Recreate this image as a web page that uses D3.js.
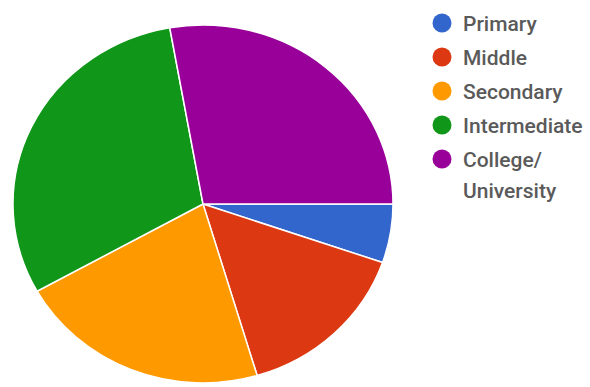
<!DOCTYPE html>
<html>
<head>
<meta charset="utf-8">
<script src="https://cdn.jsdelivr.net/npm/d3@7"></script>
<style>
  html, body { margin: 0; padding: 0; background: #fff; }
  svg { display: block; }
</style>
</head>
<body>
<svg id="chart" width="590" height="387"></svg>
<script>
// Education level shares (percent)
const categories = ["Primary", "Middle", "Secondary", "Intermediate", "College/University"];
const values = [5.3, 15.1, 21.5, 30.3, 27.8];
const legendLabels = [["Primary"], ["Middle"], ["Secondary"], ["Intermediate"], ["College/", "University"]];
const colors = ["#3366cc", "#dc3912", "#ff9900", "#109618", "#990099"];

const svg = d3.select("#chart");
const width = 590, height = 387;

const cx = 203, cy = 204, rx = 190, ry = 179;

const color = d3.scaleOrdinal().domain(categories).range(colors);

const pie = d3.pie()
  .value(d => d.value)
  .sort(null)
  .startAngle(Math.PI / 2)
  .endAngle(Math.PI / 2 + 2 * Math.PI);

const arc = d3.arc().innerRadius(0).outerRadius(rx);

const data = categories.map((c, i) => ({ name: c, value: values[i] }));

const g = svg.append("g")
  .attr("transform", `translate(${cx},${cy}) scale(1,${ry / rx})`);

g.selectAll("path")
  .data(pie(data))
  .join("path")
  .attr("d", arc)
  .attr("fill", d => color(d.data.name))
  .attr("stroke", "#ffffff")
  .attr("stroke-width", 1.5)
  .attr("vector-effect", "non-scaling-stroke");

// Legend
const legendX = 442, legendY0 = 23, legendStep = 34, lineH = 31;
const legend = svg.append("g").attr("class", "legend");

const items = legend.selectAll("g.item")
  .data(categories)
  .join("g")
  .attr("class", "item")
  .attr("transform", (d, i) => `translate(${legendX},${legendY0 + i * legendStep})`);

items.append("circle")
  .attr("r", 9.5)
  .attr("fill", d => color(d));

items.append("text")
  .attr("x", 21)
  .attr("y", 0)
  .attr("fill", "#5a5a5a")
  .style("font-family", "Roboto, 'Noto Sans', Arial, sans-serif")
  .style("font-size", "21px")
  .style("font-weight", "500")
  .each(function(d, i) {
    const t = d3.select(this);
    legendLabels[i].forEach((line, j) => {
      t.append("tspan")
        .attr("x", 21)
        .attr("y", j * lineH)
        .attr("dy", "0.36em")
        .text(line);
    });
  });
</script>
</body>
</html>
